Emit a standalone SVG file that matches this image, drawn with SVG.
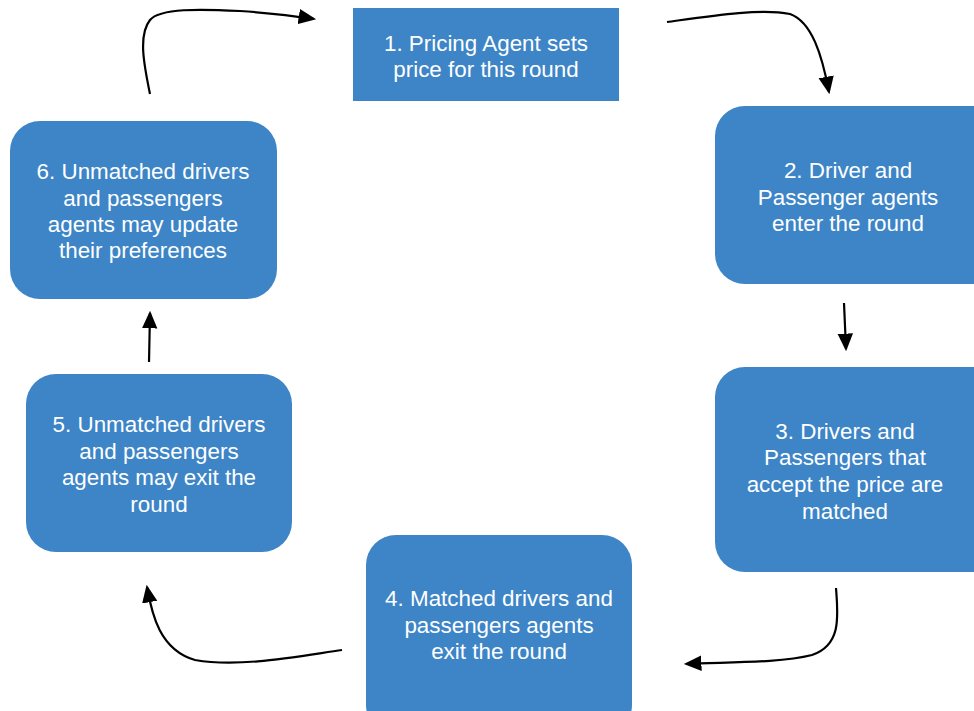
<svg xmlns="http://www.w3.org/2000/svg" width="974" height="711" viewBox="0 0 974 711">
<style>
.box{fill:#3d85c6;}
.t{font-family:"Liberation Sans",Arial,sans-serif;font-size:22.4px;fill:#ffffff;text-anchor:middle;}
.c{fill:none;stroke:#000;stroke-width:2.2;marker-end:url(#ah);}
</style>
<defs>
<marker id="ah" markerWidth="8" markerHeight="8" refX="7" refY="4" orient="auto" markerUnits="strokeWidth">
<path d="M0,0.5 L8,4 L0,7.5 Z" fill="#000"/>
</marker>
</defs>
<rect width="974" height="711" fill="#fff"/>
<g id="n1"><rect class="box" x="353" y="8" width="266" height="93"/>
<text class="t" x="486" y="51">1. Pricing Agent sets</text>
<text class="t" x="486" y="77">price for this round</text></g>
<g id="n2"><rect class="box" x="715" y="106" width="290" height="178" rx="30"/>
<text class="t" x="848" y="178">2. Driver and</text>
<text class="t" x="848" y="205">Passenger agents</text>
<text class="t" x="848" y="231">enter the round</text></g>
<g id="n3"><rect class="box" x="715" y="367" width="290" height="205" rx="30"/>
<text class="t" x="845" y="439">3. Drivers and</text>
<text class="t" x="845" y="465">Passengers that</text>
<text class="t" x="845" y="492">accept the price are</text>
<text class="t" x="845" y="519">matched</text></g>
<g id="n4"><rect class="box" x="366" y="535" width="266" height="200" rx="30"/>
<text class="t" x="499" y="606">4. Matched drivers and</text>
<text class="t" x="499" y="633">passengers agents</text>
<text class="t" x="499" y="659">exit the round</text></g>
<g id="n5"><rect class="box" x="26" y="374" width="266" height="178" rx="30"/>
<text class="t" x="159" y="432">5. Unmatched drivers</text>
<text class="t" x="159" y="459">and passengers</text>
<text class="t" x="159" y="485">agents may exit the</text>
<text class="t" x="159" y="512">round</text></g>
<g id="n6"><rect class="box" x="10" y="121" width="267" height="178" rx="30"/>
<text class="t" x="143" y="179">6. Unmatched drivers</text>
<text class="t" x="143" y="206">and passengers</text>
<text class="t" x="143" y="232">agents may update</text>
<text class="t" x="143" y="258">their preferences</text></g>
<g id="connectors">
<path class="c" d="M150,94 C144,65 138,35 150,20 C160,8 200,9 240,11 C270,13 295,16 314,19"/>
<path class="c" d="M667,22 C710,16 760,8 790,14 C812,22 822,55 829,92"/>
<path class="c" d="M844,303 L846,349"/>
<path class="c" d="M149,362 L150,313"/>
<path class="c" d="M836,588 C838,615 842,645 812,655 C780,663 730,662 686,664"/>
<path class="c" d="M342,650 C300,656 240,668 195,660 C160,650 152,615 147,587"/>
</g>
</svg>
